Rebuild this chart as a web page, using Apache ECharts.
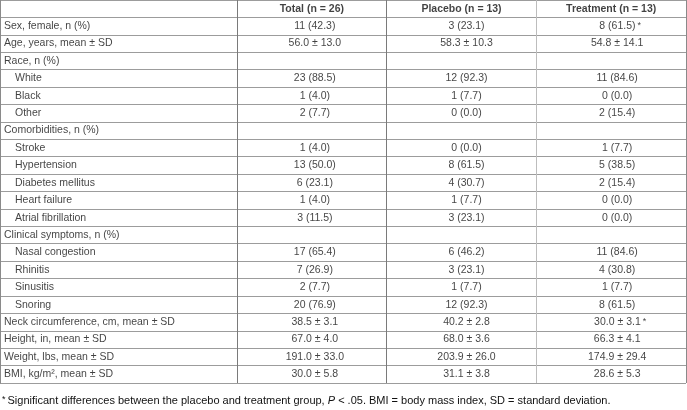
<!DOCTYPE html>
<html>
<head>
<meta charset="utf-8">
<script src="https://cdn.jsdelivr.net/npm/echarts@6/dist/echarts.min.js"></script>
<style>html,body{margin:0;padding:0;background:#fff}#c{width:687px;height:410px}</style>
</head>
<body>
<div id="c"></div>
<script>
const columnHeaders = ['Total (n = 26)', 'Placebo (n = 13)', 'Treatment (n = 13)'];
const rowLabels = [
  'Sex, female, n (%)', 'Age, years, mean ± SD', 'Race, n (%)', 'White', 'Black', 'Other',
  'Comorbidities, n (%)', 'Stroke', 'Hypertension', 'Diabetes mellitus', 'Heart failure', 'Atrial fibrillation',
  'Clinical symptoms, n (%)', 'Nasal congestion', 'Rhinitis', 'Sinusitis', 'Snoring',
  'Neck circumference, cm, mean ± SD', 'Height, in, mean ± SD', 'Weight, lbs, mean ± SD', 'BMI, kg/m², mean ± SD'
];
const subItemRows = [3, 4, 5, 7, 8, 9, 10, 11, 13, 14, 15, 16];
const totalValues = ['11 (42.3)', '56.0 ± 13.0', '', '23 (88.5)', '1 (4.0)', '2 (7.7)', '', '1 (4.0)', '13 (50.0)', '6 (23.1)', '1 (4.0)', '3 (11.5)', '', '17 (65.4)', '7 (26.9)', '2 (7.7)', '20 (76.9)', '38.5 ± 3.1', '67.0 ± 4.0', '191.0 ± 33.0', '30.0 ± 5.8'];
const placeboValues = ['3 (23.1)', '58.3 ± 10.3', '', '12 (92.3)', '1 (7.7)', '0 (0.0)', '', '0 (0.0)', '8 (61.5)', '4 (30.7)', '1 (7.7)', '3 (23.1)', '', '6 (46.2)', '3 (23.1)', '1 (7.7)', '12 (92.3)', '40.2 ± 2.8', '68.0 ± 3.6', '203.9 ± 26.0', '31.1 ± 3.8'];
const treatmentValues = ['8 (61.5)*', '54.8 ± 14.1', '', '11 (84.6)', '0 (0.0)', '2 (15.4)', '', '1 (7.7)', '5 (38.5)', '2 (15.4)', '0 (0.0)', '0 (0.0)', '', '11 (84.6)', '4 (30.8)', '1 (7.7)', '8 (61.5)', '30.0 ± 3.1*', '66.3 ± 4.1', '174.9 ± 29.4', '28.6 ± 5.3'];
const footnoteParts = ['*', 'Significant differences between the placebo and treatment group, ', 'P', ' < .05. BMI = body mass index, SD = standard deviation.'];

const FONT = "'Liberation Sans', Arial, sans-serif";
const FS = 10.5;
const FN = 11;
const TXT = '#111';
const yCats = [''].concat(rowLabels);
const valueCols = [totalValues, placeboValues, treatmentValues];
const colOffsets = [3, 5, 6];

const chart = echarts.init(document.getElementById('c'), null, {renderer: 'canvas'});

const yAxisBase = {
  type: 'category', data: yCats, inverse: true, boundaryGap: true,
  axisLabel: {show: false}, axisTick: {show: false},
  splitLine: {show: true, showMinLine: true, showMaxLine: true, lineStyle: {color: '#9c9c9c', width: 1}}
};

const labelData = rowLabels.map((t, i) => ({
  value: [0, i + 1], name: t,
  label: {distance: subItemRows.includes(i) ? 15 : 4}
}));

const headerData = columnHeaders.map((h, c) => ({value: [c, 0], name: h}));

const valueData = [];
valueCols.forEach((arr, c) => {
  arr.forEach((v, r) => {
    if (v !== '') valueData.push({value: [c, r + 1], name: v, label: {offset: [colOffsets[c] + (v.endsWith('*') ? 3 : 0), 0]}});
  });
});

chart.setOption({
  animation: false,
  backgroundColor: '#fff',
  title: {
    left: 2, top: 395, padding: 0,
    text: '{s|' + footnoteParts[0] + '}{t|' + footnoteParts[1] + '}{i|' + footnoteParts[2] + '}{t|' + footnoteParts[3] + '}',
    textStyle: {
      fontWeight: 'normal', fontSize: FN, fontFamily: FONT, color: TXT,
      rich: {
        s: {fontSize: 9, fontWeight: 'normal', fontFamily: FONT, color: TXT, verticalAlign: 'top', padding: [0, 2, 0, 0]},
        t: {fontSize: FN, fontWeight: 'normal', fontFamily: FONT, color: TXT},
        i: {fontSize: FN, fontWeight: 'normal', fontFamily: FONT, color: TXT, fontStyle: 'italic'}
      }
    }
  },
  grid: [
    {left: 0, top: 0, width: 237, height: 383},
    {left: 237, top: 0, width: 449, height: 383}
  ],
  xAxis: [
    {gridIndex: 0, type: 'value', min: 0, max: 1, show: true, axisLabel: {show: false}, axisTick: {show: false}, axisLine: {show: false}, splitLine: {show: false}},
    {gridIndex: 1, type: 'category', data: columnHeaders, boundaryGap: true, axisLabel: {show: false}, axisTick: {show: false}, axisLine: {show: false},
      splitLine: {show: true, showMinLine: true, showMaxLine: true, lineStyle: {color: ['#7a7a7a', '#7a7a7a', '#bdbdbd', '#8a8a8a'], width: 1}}}
  ],
  yAxis: [
    Object.assign({gridIndex: 0, axisLine: {show: true, lineStyle: {color: '#8a8a8a'}}}, yAxisBase),
    Object.assign({gridIndex: 1, axisLine: {show: false}}, yAxisBase)
  ],
  series: [
    {
      type: 'scatter', xAxisIndex: 0, yAxisIndex: 0, symbolSize: 0, silent: true,
      data: labelData,
      label: {show: true, position: 'right', formatter: p => p.name, color: TXT, fontSize: FS, fontFamily: FONT}
    },
    {
      type: 'scatter', xAxisIndex: 1, yAxisIndex: 1, symbolSize: 0, silent: true,
      data: headerData,
      label: {show: true, position: 'inside', formatter: p => p.name, color: TXT, fontSize: FS, fontWeight: 'bold', fontFamily: FONT}
    },
    {
      type: 'scatter', xAxisIndex: 1, yAxisIndex: 1, symbolSize: 0, silent: true,
      data: valueData,
      label: {
        show: true, position: 'inside', color: TXT, fontSize: FS, fontFamily: FONT,
        formatter: p => p.name.endsWith('*') ? '{v|' + p.name.slice(0, -1) + '}{s|*}' : '{v|' + p.name + '}',
        rich: {
          v: {fontSize: FS, fontFamily: FONT, color: TXT},
          s: {fontSize: 9, fontFamily: FONT, color: TXT, verticalAlign: 'top', padding: [0, 0, 0, 2]}
        }
      }
    }
  ]
});
</script>
</body>
</html>
